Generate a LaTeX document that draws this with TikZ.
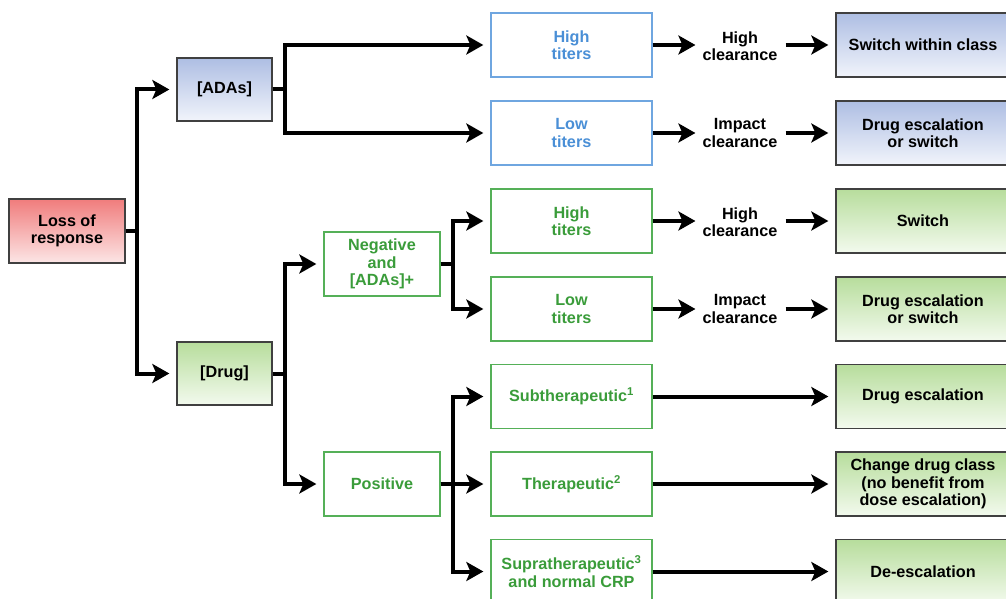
\documentclass[tikz,border=0pt]{standalone}
\usepackage{fontspec}
\setmainfont{Liberation Sans}
\usetikzlibrary{arrows.meta}
\definecolor{bluetxt}{HTML}{4A8FD6}
\definecolor{blueline}{HTML}{6FA6E0}
\definecolor{greentxt}{HTML}{3A9C3A}
\definecolor{greenline}{HTML}{55B058}
\definecolor{bluetop}{HTML}{AEBEE3}
\definecolor{bluebot}{HTML}{F1F4FB}
\definecolor{greentop}{HTML}{B7DD9C}
\definecolor{greenbot}{HTML}{F3FAEE}
\definecolor{redtop}{HTML}{F07C7C}
\definecolor{redbot}{HTML}{FCE6E6}
\tikzset{
  box/.style={line width=1.3pt, minimum width=161pt, minimum height=64pt, align=center, inner sep=2pt,
    font=\bfseries\fontsize{16.2}{17.3}\selectfont},
  bluebox/.style={box, draw=blueline, text=bluetxt},
  greenbox/.style={box, draw=greenline, text=greentxt},
  bluefill/.style={box, draw=black!75, top color=bluetop, bottom color=bluebot},
  greenfill/.style={box, draw=black!75, top color=greentop, bottom color=greenbot},
  redfill/.style={box, draw=black!75, top color=redtop, bottom color=redbot},
  clr/.style={align=center, inner sep=3pt, font=\bfseries\fontsize{16.2}{17.3}\selectfont},
  arr/.style={line width=4pt, -{Stealth[length=17pt,width=19pt,inset=4pt]}, shorten >=7pt},
}
\begin{document}
\begin{tikzpicture}[x=1pt, y=-1pt]
\useasboundingbox (0,0) rectangle (1006,599);
\clip (0,0) rectangle (1006,599);
% left part
\node[redfill, minimum width=116pt] (loss) at (67,231) {Loss of\\response};
\node[bluefill, minimum width=95pt, minimum height=63pt] (ads) at (224.5,89.5) {[ADAs]};
\node[greenfill, minimum width=95pt, minimum height=63pt] (drug) at (224.5,373.5) {[Drug]};
\node[greenbox, minimum width=116pt] (neg) at (382,264) {Negative\\and\\{}[ADAs]+};
\node[greenbox, minimum width=116pt] (pos) at (382,484) {Positive};
% titers / drug level
\node[bluebox] (hiA) at (571.5,45) {High\\titers};
\node[bluebox] (loA) at (571.5,133) {Low\\titers};
\node[greenbox] (hiB) at (571.5,221) {High\\titers};
\node[greenbox] (loB) at (571.5,309) {Low\\titers};
\node[greenbox] (sub) at (571.5,396.5) {Subtherapeutic\textsuperscript{1}};
\node[greenbox] (ther) at (571.5,484) {Therapeutic\textsuperscript{2}};
\node[greenbox] (supra) at (571.5,571.5) {Supratherapeutic\textsuperscript{3}\\and normal CRP};
% clearance
\node[clr] (clrA1) at (740,46) {High\\clearance};
\node[clr] (clrA2) at (740,133) {Impact\\clearance};
\node[clr] (clrB1) at (740,222) {High\\clearance};
\node[clr] (clrB2) at (740,309) {Impact\\clearance};
% outcomes
\node[bluefill, minimum width=174pt] (outA1) at (923,45) {Switch within class};
\node[bluefill, minimum width=174pt] (outA2) at (923,133) {Drug escalation\\or switch};
\node[greenfill, minimum width=174pt] (outB1) at (923,221) {Switch};
\node[greenfill, minimum width=174pt] (outB2) at (923,309) {Drug escalation\\or switch};
\node[greenfill, minimum width=174pt] (outC1) at (923,396.5) {Drug escalation};
\node[greenfill, minimum width=174pt] (outC2) at (923,484) {Change drug class\\(no benefit from\\dose escalation)};
\node[greenfill, minimum width=174pt] (outC3) at (923,571.5) {De-escalation};
% connectors
\draw[arr] (loss.east) -- ++(11,0) |- (ads.west);
\draw[arr] (loss.east) -- ++(11,0) |- (drug.west);
\draw[arr] (ads.east) -- ++(12,0) |- (hiA.west);
\draw[arr] (ads.east) -- ++(12,0) |- (loA.west);
\draw[arr] (drug.east) -- ++(12,0) |- (neg.west);
\draw[arr] (drug.east) -- ++(12,0) |- (pos.west);
\draw[arr] (neg.east) -- ++(12,0) |- (hiB.west);
\draw[arr] (neg.east) -- ++(12,0) |- (loB.west);
\draw[arr] (pos.east) -- ++(12,0) |- (sub.west);
\draw[arr] (pos.east) -- ++(12,0) |- (supra.west);
\draw[arr] (pos.east) -- (ther.west);
\foreach \t/\c/\o in {hiA/clrA1/outA1, loA/clrA2/outA2, hiB/clrB1/outB1, loB/clrB2/outB2}{
  \draw[arr, shorten >=4pt] (\t.east) -- (\t.east -| \c.west);
  \draw[arr, shorten <=5pt] (\o.west -| \c.east) -- (\o.west);
}
\foreach \t/\o in {sub/outC1, ther/outC2, supra/outC3}
  \draw[arr] (\t.east) -- (\o.west);
\end{tikzpicture}
\end{document}
